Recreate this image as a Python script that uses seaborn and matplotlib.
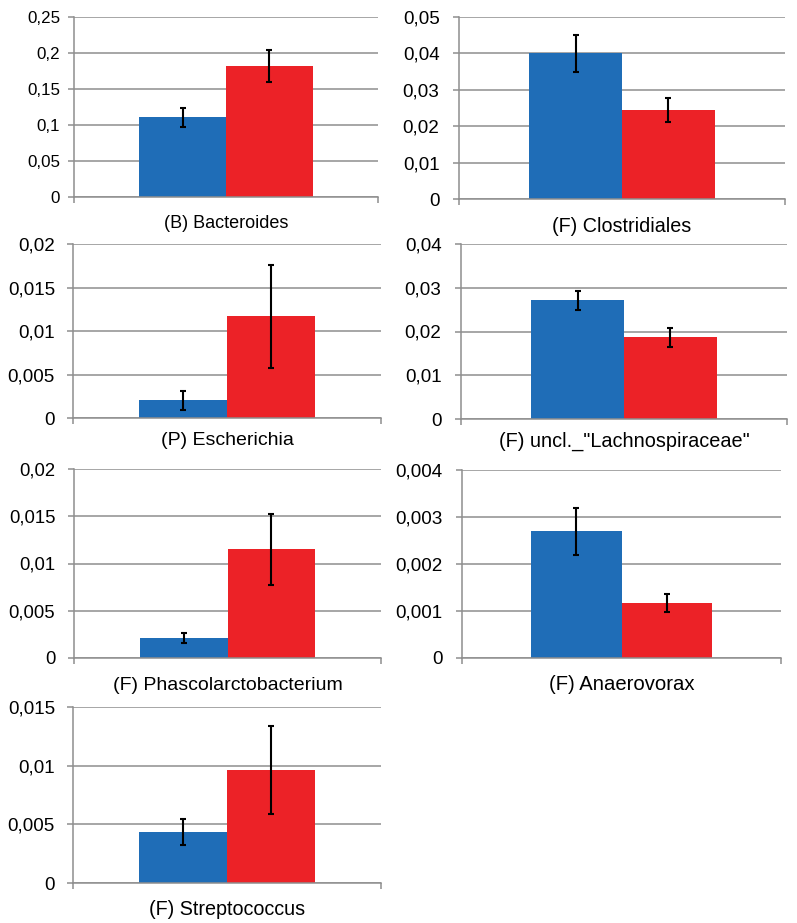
import numpy as np
import pandas as pd
import matplotlib
matplotlib.use("Agg")
import matplotlib.pyplot as plt
import seaborn as sns
from matplotlib.ticker import MultipleLocator, FuncFormatter, FixedLocator

# ---------------- data ----------------
taxa = ["(B) Bacteroides", "(F) Clostridiales", "(P) Escherichia",
        '(F) uncl._"Lachnospiraceae"', "(F) Phascolarctobacterium",
        "(F) Anaerovorax", "(F) Streptococcus"]
groups = ["Group A", "Group B"]
blue_vals = [0.1111, 0.0400, 0.00203, 0.0271, 0.00212, 0.00270, 0.00435]
blue_err = [0.0132, 0.0051, 0.00113, 0.00213, 0.00048, 0.00050, 0.00112]
red_vals = [0.1815, 0.0244, 0.0117, 0.0187, 0.0115, 0.00117, 0.00966]
red_err = [0.0222, 0.0033, 0.0059, 0.00217, 0.00373, 0.00020, 0.00375]
y_max = [0.25, 0.05, 0.02, 0.04, 0.02, 0.004, 0.015]
y_step = [0.05, 0.01, 0.005, 0.01, 0.005, 0.001, 0.005]

# ---------------- layout / style ----------------
W, H = 797, 923
boxes = [(74, 378, 17, 197), (459, 785, 17, 199),
         (73, 381, 244, 418), (461, 787, 244, 419),
         (74, 381, 469, 658), (462, 781, 470, 658),
         (73, 381, 707, 883)]
tick_fs = [12.2, 13.6, 13.6, 13.6, 13.3, 13.6, 13.6]
label_fs = [13, 14.2, 14, 14.3, 14, 14.6, 14.2]
ytick_pad = [6, 10, 9, 10, 9.5, 10, 9]
xlabel_pad = [13, 13, 10, 9.5, 14, 12, 12.5]

blue = "#1F6DB7"
red = "#EC2227"
grid_col = "#8E8E8E"

sns.set_theme(style="white")
plt.rcParams["font.family"] = ["Liberation Sans", "DejaVu Sans"]

fig = plt.figure(figsize=(W / 100, H / 100), dpi=100)
fmt = FuncFormatter(lambda v, p: f"{v:g}".replace(".", ","))

for i, taxon in enumerate(taxa):
    l, r, t, b = boxes[i]
    ax = fig.add_axes([l / W, 1 - b / H, (r - l) / W, (b - t) / H])
    df = pd.DataFrame({"taxon": [taxon, taxon], "group": groups,
                       "value": [blue_vals[i], red_vals[i]]})
    sns.barplot(data=df, x="taxon", y="value", hue="group",
                palette=[blue, red], width=0.57, dodge=True,
                legend=False, ax=ax, errorbar=None, saturation=1,
                linewidth=0)
    bars = ax.patches[:2]
    xs = [p.get_x() + p.get_width() / 2 for p in bars]
    ax.errorbar(xs, [blue_vals[i], red_vals[i]],
                yerr=[blue_err[i], red_err[i]], fmt="none",
                ecolor="black", elinewidth=1.5, capsize=2.5, capthick=1.5,
                zorder=5)
    ax.set_xlim(-0.5, 0.5)
    ax.set_ylim(0, y_max[i])
    ax.yaxis.set_major_locator(MultipleLocator(y_step[i]))
    ax.yaxis.set_major_formatter(fmt)
    ax.set_xlabel("")
    ax.set_ylabel("")
    ax.yaxis.grid(True, color=grid_col, linewidth=1.1)
    ax.set_axisbelow(True)
    for s in ["top", "right"]:
        ax.spines[s].set_visible(False)
    for s in ["left", "bottom"]:
        ax.spines[s].set_color(grid_col)
        ax.spines[s].set_linewidth(1.1)
    ax.tick_params(axis="y", direction="out", length=4, width=1.1,
                   color=grid_col, labelsize=tick_fs[i], labelcolor="black",
                   pad=ytick_pad[i], left=True)
    ax.tick_params(axis="x", which="major", length=0, labelsize=label_fs[i],
                   labelcolor="black", pad=xlabel_pad[i])
    ax.xaxis.set_minor_locator(FixedLocator([-0.5, 0.5]))
    ax.tick_params(axis="x", which="minor", direction="out", length=4,
                   width=1.1, color=grid_col, bottom=True)

fig.savefig("out.png", dpi=100)
